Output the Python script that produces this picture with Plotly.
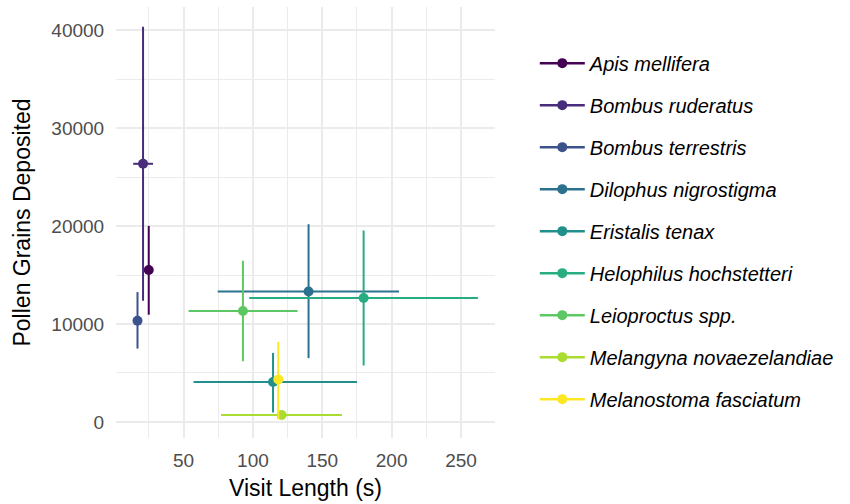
import plotly.graph_objects as go

species = ["Apis mellifera", "Bombus ruderatus", "Bombus terrestris",
           "Dilophus nigrostigma", "Eristalis tenax", "Helophilus hochstetteri",
           "Leioproctus spp.", "Melangyna novaezelandiae", "Melanostoma fasciatum"]
visit_mean = [24.9, 20.8, 16.8, 140.1, 114.5, 179.8, 92.8, 120.7, 118.3]
visit_lo = [23.0, 13.7, 15.0, 74.6, 57.2, 97.3, 53.6, 77.0, 116.5]
visit_hi = [26.8, 28.0, 18.6, 205.3, 175.0, 262.2, 132.2, 164.2, 120.0]
pollen_mean = [15526, 26375, 10340, 13320, 4070, 12650, 11330, 700, 4340]
pollen_lo = [10950, 12370, 7490, 6510, 955, 5765, 6200, 400, 250]
pollen_hi = [20030, 40370, 13260, 20200, 7050, 19560, 16470, 1000, 8175]
colors = ["#440154", "#472D7B", "#3B528B", "#2C728E", "#21908C",
          "#27AD81", "#5DC863", "#AADC32", "#FDE725"]

fig = go.Figure()
for i, sp in enumerate(species):
    fig.add_trace(go.Scatter(
        x=[visit_mean[i]], y=[pollen_mean[i]], name="<i>" + sp + "</i>",
        mode="lines+markers", legendgroup=sp,
        marker=dict(color=colors[i], size=10),
        line=dict(color=colors[i], width=2.5),
        error_x=dict(type="data", symmetric=False,
                     array=[visit_hi[i] - visit_mean[i]],
                     arrayminus=[visit_mean[i] - visit_lo[i]],
                     color=colors[i], thickness=2, width=0),
        error_y=dict(type="data", symmetric=False,
                     array=[pollen_hi[i] - pollen_mean[i]],
                     arrayminus=[pollen_mean[i] - pollen_lo[i]],
                     color=colors[i], thickness=2, width=0),
    ))

font = "Liberation Sans, Arial, sans-serif"
fig.update_layout(
    width=850, height=504,
    margin=dict(l=116, r=355, t=7, b=66),
    paper_bgcolor="white", plot_bgcolor="white",
    font=dict(family=font, color="black"),
    showlegend=True,
    legend=dict(x=1.105, y=0.915, xanchor="left", yanchor="top",
                font=dict(size=20, family=font, color="black"),
                traceorder="grouped", tracegroupgap=13, itemwidth=45,
                bgcolor="rgba(0,0,0,0)"),
    xaxis=dict(range=[1.3, 274.5], tick0=0, dtick=50,
               showgrid=True, gridcolor="#EBEBEB", gridwidth=1.6,
               minor=dict(dtick=25, showgrid=True, gridcolor="#EBEBEB", gridwidth=1.1),
               zeroline=False, showline=False,
               ticks="outside", ticklen=5, tickcolor="rgba(0,0,0,0)",
               tickfont=dict(size=19, color="#4D4D4D", family=font),
               title=dict(text="Visit Length (s)", font=dict(size=23, color="black", family=font),
                          standoff=10)),
    yaxis=dict(range=[-1650, 42400], tick0=0, dtick=10000, tickformat="d",
               showgrid=True, gridcolor="#EBEBEB", gridwidth=1.6,
               minor=dict(dtick=5000, showgrid=True, gridcolor="#EBEBEB", gridwidth=1.1),
               zeroline=False, showline=False,
               ticks="outside", ticklen=7, tickcolor="rgba(0,0,0,0)",
               tickfont=dict(size=19, color="#4D4D4D", family=font),
               title=dict(text="Pollen Grains Deposited", font=dict(size=23, color="black", family=font),
                          standoff=14)),
)

fig.write_html("out.html")
